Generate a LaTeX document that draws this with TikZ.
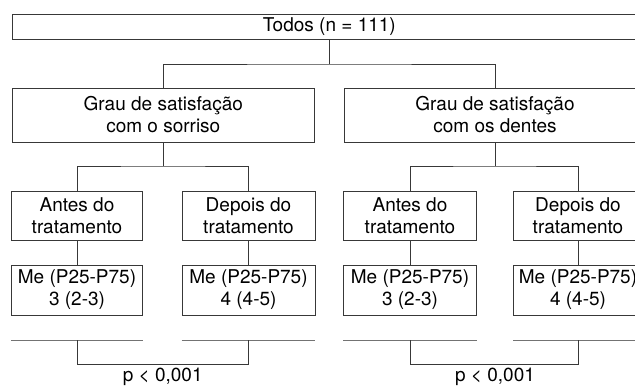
\documentclass[tikz,border=0pt]{standalone}
\usepackage{fontspec}
\setmainfont{TeX Gyre Heros}
\usetikzlibrary{calc}
\tikzset{
	box/.style={draw=black!78, line width=0.8pt, inner sep=0pt, align=center, font=\fontsize{19}{22}\selectfont},
	link/.style={draw=black!78, line width=0.8pt},
	sepline/.style={draw=black!55, line width=1.3pt},
	plabel/.style={inner sep=0pt, font=\fontsize{19}{22}\selectfont}
}

\begin{document}
\begin{tikzpicture}[x=1pt, y=-1pt]
		%%%%% START %%%%%
		\useasboundingbox (0, 0) rectangle (635, 387);
		\clip (0, 0) rectangle (635, 387);
		
		\node[box, minimum width=633pt, minimum height=24.6pt] (todos) at (329.3, 27) {Todos (n = 111)};
		
		\node[box, minimum width=301.3pt, minimum height=54pt] (grauA) at (163.3, 115) {Grau de satisfação\\com o sorriso};
		\node[box, minimum width=302pt, minimum height=54pt] (grauB) at (495, 115) {Grau de satisfação\\com os dentes};
		
		\node[box, minimum width=131.3pt, minimum height=49pt] (antesA) at (77, 215.5) {Antes do\\tratamento};
		\node[box, minimum width=133pt, minimum height=49pt] (depoisA) at (248.5, 215.5) {Depois do\\tratamento};
		\node[box, minimum width=133pt, minimum height=49pt] (antesB) at (410, 215.5) {Antes do\\tratamento};
		\node[box, minimum width=129pt, minimum height=49pt] (depoisB) at (578, 215.5) {Depois do\\tratamento};
		
		\node[box, minimum width=131.3pt, minimum height=50pt] (meA) at (77, 290) {Me (P25-P75)\\3 (2-3)};
		\node[box, minimum width=133pt, minimum height=50pt] (meB) at (248.5, 290) {Me (P25-P75)\\4 (4-5)};
		\node[box, minimum width=133pt, minimum height=50pt] (meC) at (410, 290) {Me (P25-P75)\\3 (2-3)};
		\node[box, minimum width=129pt, minimum height=50pt] (meD) at (578, 290) {Me (P25-P75)\\4 (4-5)};
		
		% forks
		\coordinate (fork0) at (329.3, 64);
		\coordinate (forkA) at (163.3, 166);
		\coordinate (forkB) at (495, 166);
		\draw[link] (todos.south) -- (fork0);
		\draw[link] (grauA.north) |- (fork0) -| (grauB.north);
		\draw[link] (grauA.south) -- (forkA);
		\draw[link] (antesA.north) |- (forkA) -| (depoisA.north);
		\draw[link] (grauB.south) -- (forkB);
		\draw[link] (antesB.north) |- (forkB) -| (depoisB.north);
		
		\draw[link] (antesA) -- (meA);
		\draw[link] (depoisA) -- (meB);
		\draw[link] (antesB) -- (meC);
		\draw[link] (depoisB) -- (meD);
		
		% lines under the boxes
		\foreach \m in {meA, meB, meC, meD} {
			\draw[sepline] ($(\m.south west)+(0, 25)$) -- ($(\m.south east)+(0, 25)$);
		}
		
		\draw[link] ($(meA.south)+(0, 25)$) -- ++(0, 24) -| ($(meB.south)+(0, 25)$);
		\draw[link] ($(meC.south)+(0, 25)$) -- ++(0, 24) -| ($(meD.south)+(0, 25)$);
		
		\node[plabel] (pA) at (162.7, 377) {p < 0,001};
		\node[plabel] (pB) at (495, 377) {p < 0,001};
		%%%%% END %%%%%
	\end{tikzpicture}
\end{document}
